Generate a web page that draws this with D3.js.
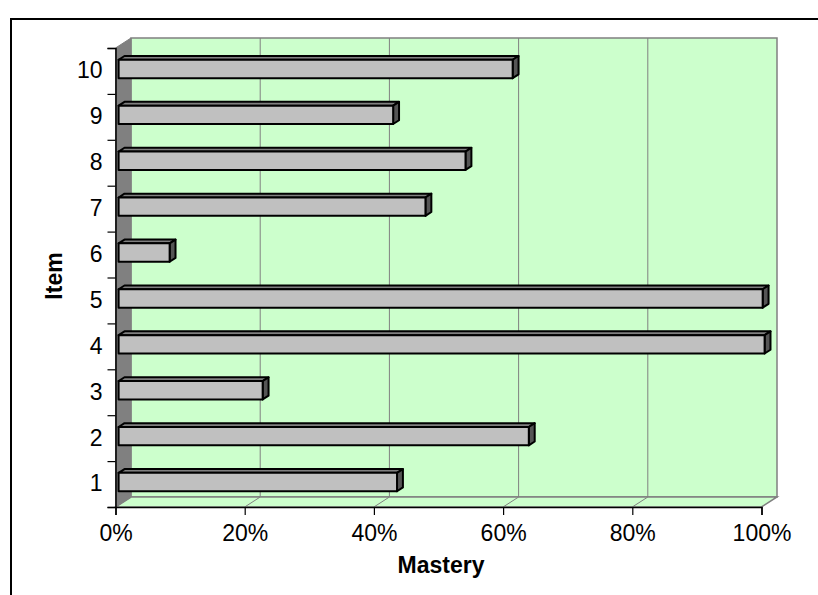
<!DOCTYPE html>
<html>
<head>
<meta charset="utf-8">
<script src="https://cdn.jsdelivr.net/npm/d3@7"></script>
<style>
  html, body { margin: 0; padding: 0; background: #fff; }
  svg { display: block; }
  text { font-family: "Liberation Sans", Arial, sans-serif; fill: #000; }
</style>
</head>
<body>
<svg id="chart" width="818" height="595"></svg>
<script>
// ---- data ----
const categories = ["1", "2", "3", "4", "5", "6", "7", "8", "9", "10"];
const mastery = [0.431, 0.635, 0.223, 1.0, 0.997, 0.079, 0.475, 0.537, 0.425, 0.610];
const xTicks = [0, 0.2, 0.4, 0.6, 0.8, 1.0];
const xTitle = "Mastery";
const yTitle = "Item";

// ---- layout ----
const svg = d3.select("#chart");
const front = { left: 115.5, right: 761.5, top: 48, bottom: 507 };
const DX = 15.5, DY = 10;          // 3D depth offset
const z0 = 0.2, z1 = 0.58;         // bar depth extent
const FS = "23px";

const x = d3.scaleLinear().domain([0, 1]).range([front.left, front.right]);
const yBand = d3.scaleBand().domain(categories).range([front.bottom, front.top])
  .paddingInner(0.6).paddingOuter(0.3);
const yLin = d3.scaleLinear().domain([0, categories.length]).range([front.bottom, front.top]);

const proj = (v, yy, z) => [x(v) + z * DX, yy - z * DY];
const poly = pts => "M" + pts.map(p => p.join(",")).join("L") + "Z";

// outer frame
svg.append("rect").attr("x", 11).attr("y", 19).attr("width", 900).attr("height", 700)
  .attr("fill", "none").attr("stroke", "#000").attr("stroke-width", 2);

// back wall
const bw = [proj(0, front.top, 1), proj(1, front.top, 1), proj(1, front.bottom, 1), proj(0, front.bottom, 1)];
svg.append("path").attr("d", poly(bw)).attr("fill", "#CCFFCC").attr("stroke", "#808080").attr("stroke-width", 1.5);

// floor
const fl = [proj(0, front.bottom, 0), proj(1, front.bottom, 0), proj(1, front.bottom, 1), proj(0, front.bottom, 1)];
svg.append("path").attr("d", poly(fl)).attr("fill", "#CCFFCC").attr("stroke", "#808080").attr("stroke-width", 1.5);

// side wall
const sw = [proj(0, front.top, 0), proj(0, front.top, 1), proj(0, front.bottom, 1), proj(0, front.bottom, 0)];
svg.append("path").attr("d", poly(sw)).attr("fill", "#808080").attr("stroke", "#808080").attr("stroke-width", 1);

// gridlines on back wall and floor
const grid = svg.append("g");
xTicks.slice(1, -1).forEach(t => {
  const a = proj(t, front.top, 1), b = proj(t, front.bottom, 1), c = proj(t, front.bottom, 0);
  grid.append("path").attr("d", "M" + a.join(",") + "L" + b.join(",") + "L" + c.join(","))
    .attr("fill", "none").attr("stroke", "#808080").attr("stroke-width", 1);
});

// bars
const bars = svg.append("g");
categories.forEach((c, i) => {
  const v = mastery[i];
  const top = yBand(c), bot = yBand(c) + yBand.bandwidth();
  const g = bars.append("g").attr("stroke", "#000").attr("stroke-width", 2).attr("stroke-linejoin", "round");
  g.append("path").attr("d", poly([proj(0, top, z0), proj(v, top, z0), proj(v, top, z1), proj(0, top, z1)]))
    .attr("fill", "#808080");
  g.append("path").attr("d", poly([proj(v, top, z0), proj(v, top, z1), proj(v, bot, z1), proj(v, bot, z0)]))
    .attr("fill", "#555555");
  g.append("path").attr("d", poly([proj(0, top, z0), proj(v, top, z0), proj(v, bot, z0), proj(0, bot, z0)]))
    .attr("fill", "#C0C0C0");
});

// x axis
const xAxis = svg.append("g").attr("transform", `translate(0,${front.bottom})`)
  .call(d3.axisBottom(x).tickValues(xTicks).tickFormat(d3.format(".0%")).tickSize(8).tickPadding(10));
xAxis.select(".domain").attr("stroke", "#000").attr("stroke-width", 1.5);
xAxis.selectAll(".tick line").attr("stroke", "#000").attr("stroke-width", 1.2);
xAxis.selectAll("text").style("font-size", FS).attr("font-family", null);

// y axis: tick marks at category boundaries
const yTickAxis = svg.append("g").attr("transform", `translate(${front.left},0)`)
  .call(d3.axisLeft(yLin).tickValues(d3.range(0, categories.length + 1)).tickFormat("").tickSize(8));
yTickAxis.select(".domain").attr("stroke", "#000").attr("stroke-width", 1.5);
yTickAxis.selectAll(".tick line").attr("stroke", "#000").attr("stroke-width", 1.2);

// y axis labels
const yLabAxis = svg.append("g").attr("transform", `translate(${front.left},0)`)
  .call(d3.axisLeft(yBand).tickSize(0).tickPadding(13));
yLabAxis.select(".domain").remove();
yLabAxis.selectAll("text").style("font-size", FS).attr("font-family", null);

// titles
svg.append("text").attr("x", 441).attr("y", 573).attr("text-anchor", "middle")
  .style("font-size", FS).style("font-weight", "bold").text(xTitle);
svg.append("text").attr("transform", "translate(62,276) rotate(-90)").attr("text-anchor", "middle")
  .style("font-size", FS).style("font-weight", "bold").text(yTitle);
</script>
</body>
</html>
